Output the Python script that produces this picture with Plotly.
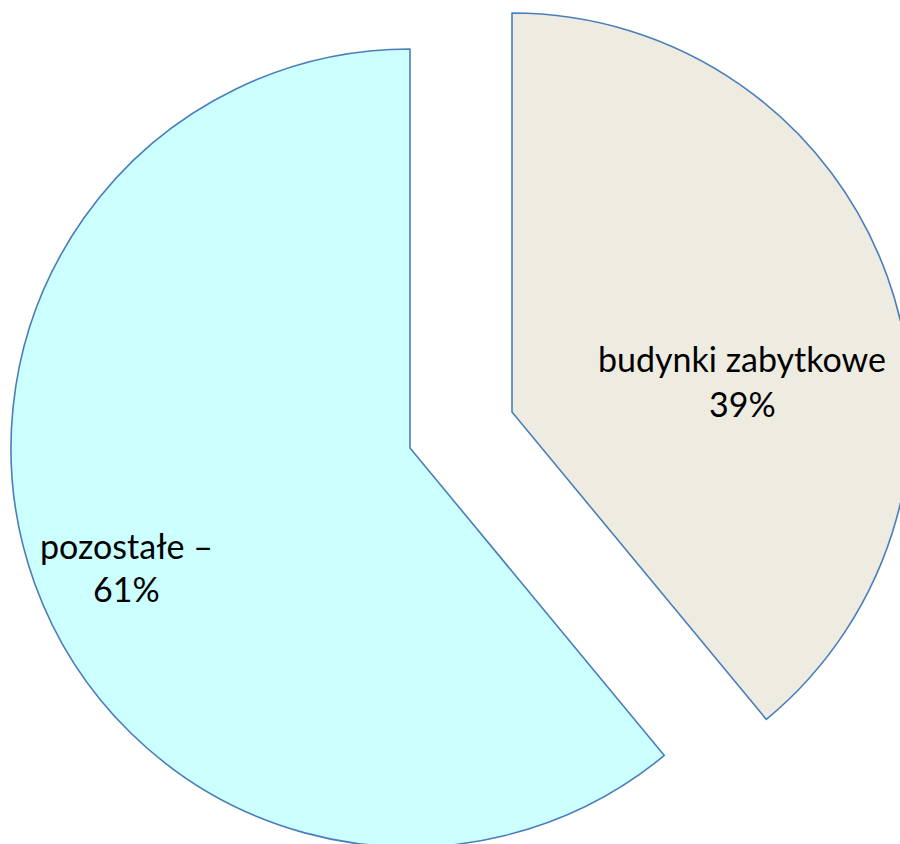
import plotly.graph_objects as go

# Shares of buildings (percent)
labels = ["budynki zabytkowe", "pozostałe"]
shares = [39, 61]
label_suffix = ["", " –"]

fill_colors = ["#EEECE1", "#CCFFFF"]
edge_color = "#4A7EBB"
clear = "rgba(0,0,0,0)"

W, H = 912, 848
R = 399
# slice centres in pixels: the historic-buildings slice is pulled out
centres = [(512, 412), (410, 448)]

fig = go.Figure()
for i, (cx, cy) in enumerate(centres):
    colors = [fill_colors[j] if j == i else clear for j in range(len(shares))]
    lines = [edge_color if j == i else clear for j in range(len(shares))]
    widths = [1.6 if j == i else 0 for j in range(len(shares))]
    fig.add_trace(go.Pie(
        labels=labels,
        values=shares,
        sort=False,
        direction="clockwise",
        rotation=0,
        marker=dict(colors=colors, line=dict(color=lines, width=widths)),
        textinfo="none",
        hoverinfo="label+percent",
        domain=dict(
            x=[(cx - R) / W, (cx + R) / W],
            y=[1 - (cy + R) / H, 1 - (cy - R) / H],
        ),
        showlegend=False,
    ))

font = dict(family="Lato, 'Open Sans', sans-serif", size=34, color="#000000")
# label positions in pixels: (x centre, name line middle, percent line middle)
label_pos = [(742, 358, 404), (126, 545, 588)]
for i, (x, y1, y2) in enumerate(label_pos):
    fig.add_annotation(x=x / W, y=1 - y1 / H, xref="paper", yref="paper",
                       text=labels[i] + label_suffix[i], showarrow=False,
                       xanchor="center", yanchor="middle", font=font)
    fig.add_annotation(x=x / W, y=1 - y2 / H, xref="paper", yref="paper",
                       text=f"{shares[i]}%", showarrow=False,
                       xanchor="center", yanchor="middle", font=font)

fig.update_layout(
    width=W, height=H,
    margin=dict(l=0, r=0, t=0, b=0, pad=0),
    paper_bgcolor="white",
    plot_bgcolor="white",
)

fig.write_html("out.html")
